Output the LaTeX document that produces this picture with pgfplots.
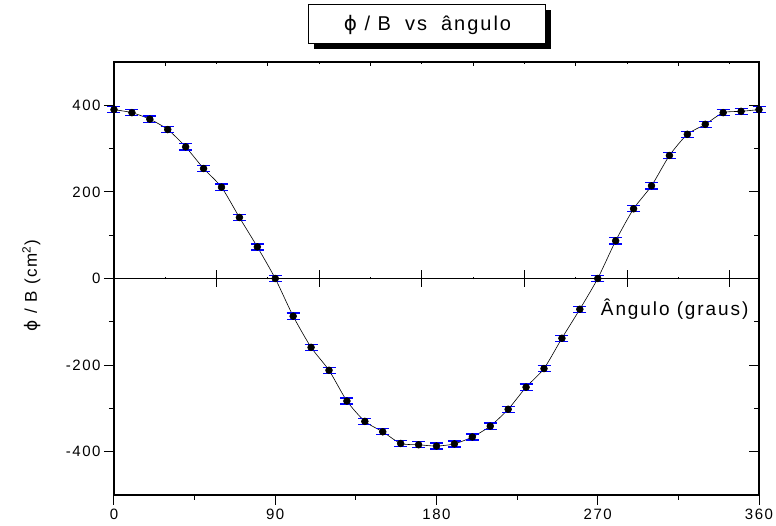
\documentclass[border=0pt]{standalone}
\usepackage{fontspec}
\setmainfont{Liberation Sans}[LetterSpace=10]
\newfontfamily\dejavu{DejaVu Sans}
\usepackage{pgfplots}
\pgfplotsset{compat=1.18}
\usetikzlibrary{shadows}

\newcommand{\fii}{{\dejavu ϕ}}

\pgfplotstableread{
ang val err
0   390  7
10  383  7
20  368  7
30  344  7
40  304  7
50  254  7
60  211  7
70  141  7
80  73   7
90  0    7
100 -87  7
110 -159 7
120 -212 7
130 -283 7
140 -330 7
150 -354 7
160 -381 7
170 -384 7
180 -387 7
190 -382 7
200 -366 7
210 -341 7
220 -302 7
230 -251 7
240 -208 7
250 -138 7
260 -71  7
270 0    7
280 87   7
290 161  7
300 214  7
310 284  7
320 333  7
330 356  7
340 383  7
350 386  7
360 390  7
}\dados

\begin{document}
\begin{tikzpicture}
% eixo central (em radianos, sem rotulos)
\begin{axis}[
    width=645pt, height=433pt, scale only axis,
    xmin=0, xmax=6.28319, ymin=-1, ymax=1,
    axis x line=middle, axis y line=none,
    x axis line style={-, line width=1pt},
    xtick={1,2,3,4,5,6},
    minor xtick={0.5,1.5,2.5,3.5,4.5,5.5},
    xticklabels={},
    tick align=center,
    major tick length=17pt, minor tick length=2pt,
    tick style={black, line width=1pt},
]
\end{axis}
% ticks de cima
\begin{axis}[
    width=645pt, height=433pt, scale only axis,
    xmin=0, xmax=6.28319, ymin=-500, ymax=500,
    axis line style={draw=none},
    xtick={0.5,1.5,2.5,3.5,4.5,5.5},
    minor xtick={1,2,3,4,5,6},
    ytick=\empty,
    xtick pos=top,
    xticklabels={},
    tick align=inside,
    major tick length=4pt, minor tick length=2pt,
    tick style={black, line width=1pt},
]
\end{axis}
% ticks da direita
\begin{axis}[
    width=645pt, height=433pt, scale only axis,
    xmin=0, xmax=360, ymin=-500, ymax=500,
    axis line style={draw=none},
    xtick=\empty,
    ytick={-400,-200,0,200,400},
    minor ytick={-300,-100,100,300},
    ytick pos=right,
    yticklabels={},
    tick align=inside,
    major tick length=10pt, minor tick length=5pt,
    tick style={black, line width=1pt},
]
\end{axis}
% eixo principal
\begin{axis}[
    width=645pt, height=433pt, scale only axis,
    xmin=0, xmax=360, ymin=-500, ymax=500,
    clip=false,
    axis line style={line width=1.6pt},
    xtick={0,90,180,270,360},
    minor xtick={45,135,225,315},
    ytick={-400,-200,0,200,400},
    minor ytick={-300,-100,100,300},
    xtick pos=bottom, ytick pos=left,
    tick align=outside,
    major tick length=10pt, minor tick length=5pt,
    tick style={black, line width=1pt},
    /pgf/number format/assume math mode=true,
    tick label style={font=\fontsize{15}{18}\selectfont},
    ylabel={\fii{} / B (cm\textsuperscript{2})},
    ylabel style={font=\fontsize{17}{20}\selectfont, at={(rel axis cs:-0.128,0.483)}, anchor=center},
]
\addplot[black, line width=0.6pt, smooth, tension=0.4,
    mark=*, mark size=3.4pt, mark options={fill=black},
    error bars/.cd, y dir=both, y explicit,
    error bar style={blue, line width=1pt},
    error mark options={blue, rotate=90, mark size=6.5pt, line width=1.3pt}]
    table[x=ang, y=val, y error=err] {\dados};

\node[anchor=east, font=\fontsize{19}{22}\selectfont] at (rel axis cs:0.989,0.429) {Ângulo (graus)};

\node[draw, fill=white, line width=1pt, minimum width=237pt, minimum height=39pt,
    drop shadow={opacity=1, fill=black, shadow xshift=5pt, shadow yshift=-5pt},
    font=\fontsize{20}{23}\selectfont]
    at (rel axis cs:0.486,1) [yshift=37.5pt] {\fii{} / B\hspace{14pt}vs\hspace{14pt}ângulo};
\end{axis}
\pgfresetboundingbox
\path (-114pt,-31pt) rectangle (662pt,495pt);
\end{tikzpicture}
\end{document}
